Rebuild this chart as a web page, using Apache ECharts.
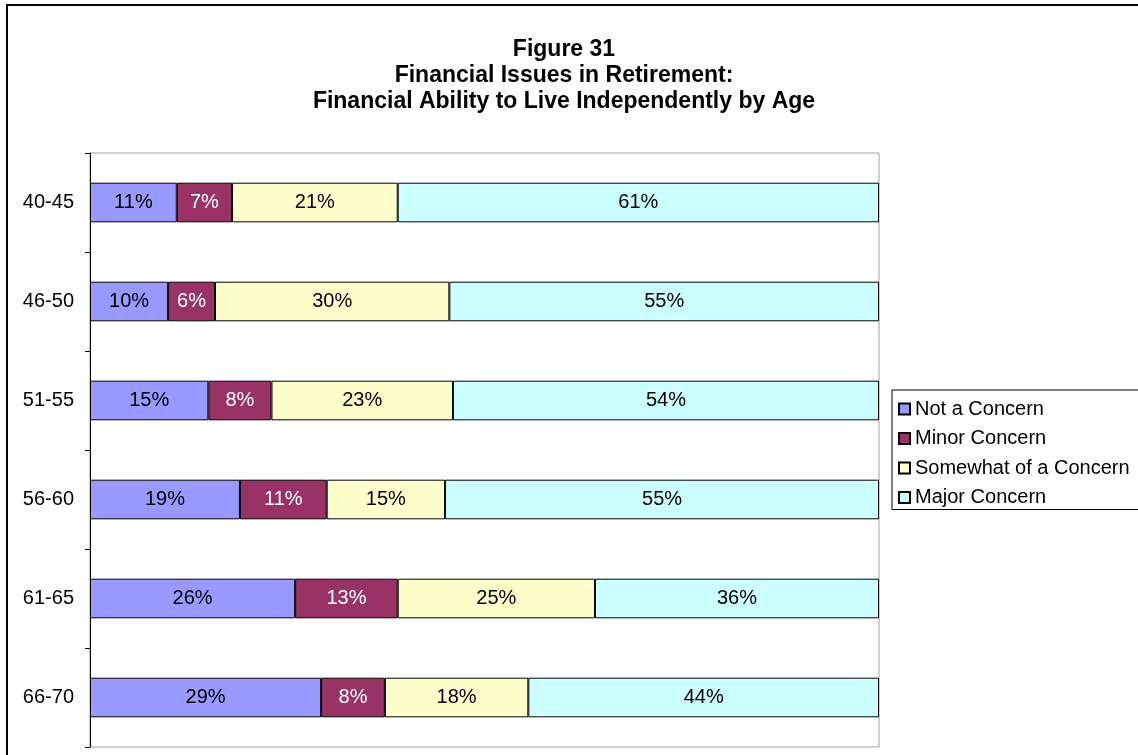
<!DOCTYPE html>
<html>
<head>
<meta charset="utf-8">
<script src="https://cdn.jsdelivr.net/npm/echarts@6/dist/echarts.min.js"></script>
<style>
    html, body { margin: 0; padding: 0; background: #fff; }
    #chart { width: 1138px; height: 755px; }
</style>
</head>
<body>
<div id="chart"></div>
<script>
var ageGroups = ["40-45", "46-50", "51-55", "56-60", "61-65", "66-70"];
var seriesNames = ["Not a Concern", "Minor Concern", "Somewhat of a Concern", "Major Concern"];

// percentages as printed on the bars
var notConcern = [11, 10, 15, 19, 26, 29];
var minorConcern = [7, 6, 8, 11, 13, 8];
var somewhatConcern = [21, 30, 23, 15, 25, 18];
var majorConcern = [61, 55, 54, 55, 36, 44];

var seriesColors = ["#9999ff", "#993366", "#ffffcc", "#ccffff"];
var labelColors = ["#000", "#fff", "#000", "#000"];

var fontName = "'Liberation Sans', Arial, sans-serif";

var allValues = [notConcern, minorConcern, somewhatConcern, majorConcern];

// 100% stacked: each row is scaled to its own total
var rowTotals = ageGroups.map(function (g, i) {
    var t = 0;
    for (var s = 0; s < allValues.length; s++) t += allValues[s][i];
    return t;
});

var series = allValues.map(function (vals, s) {
    return {
        name: seriesNames[s],
        type: "bar",
        stack: "total",
        barWidth: "40%",
        data: vals.map(function (v, i) {
            return { value: v / rowTotals[i] * 100, shown: v };
        }),
        itemStyle: {
            color: seriesColors[s],
            borderColor: "#000",
            borderWidth: 1
        },
        label: {
            show: true,
            position: "inside",
            color: labelColors[s],
            fontFamily: fontName,
            fontSize: 20,
            formatter: function (p) { return p.data.shown + "%"; }
        },
        emphasis: { disabled: true },
        animation: false
    };
});

var chart = echarts.init(document.getElementById("chart"));
chart.setOption({
    animation: false,
    textStyle: { fontFamily: fontName },
    grid: {
        left: 90,
        top: 153,
        right: 259,
        bottom: 8,
        show: true,
        borderColor: "#a0a0a0",
        borderWidth: 1,
        backgroundColor: "#fff"
    },
    xAxis: {
        type: "value",
        min: 0,
        max: 100,
        show: false
    },
    yAxis: {
        type: "category",
        inverse: true,
        data: ageGroups,
        axisLine: { lineStyle: { color: "#000", width: 1 } },
        axisTick: { show: true, length: 5, inside: false, lineStyle: { color: "#000" } },
        axisLabel: { color: "#000", fontSize: 20, margin: 16, fontFamily: fontName },
        splitLine: { show: false }
    },
    legend: {
        orient: "vertical",
        left: 892,
        top: 390,
        data: seriesNames,
        icon: "rect",
        itemWidth: 11,
        itemHeight: 11,
        itemGap: 9.5,
        padding: [9, 40, 2, 6],
        borderColor: "#000",
        borderWidth: 1,
        backgroundColor: "#fff",
        textStyle: { color: "#000", fontSize: 20, lineHeight: 20, fontFamily: fontName }
    },
    graphic: [
        {
            type: "rect",
            shape: { x: 7, y: 5, width: 1200, height: 800 },
            style: { fill: "none", stroke: "#000", lineWidth: 2 },
            z: -10
        },
        {
            type: "text",
            x: 564,
            y: 37,
            style: {
                text: "Figure 31\nFinancial Issues in Retirement:\nFinancial Ability to Live Independently by Age",
                textAlign: "center",
                textVerticalAlign: "top",
                fontFamily: fontName,
                fontWeight: "bold",
                fontSize: 23,
                lineHeight: 26,
                fill: "#000"
            }
        }
    ],
    series: series
});
</script>
</body>
</html>
